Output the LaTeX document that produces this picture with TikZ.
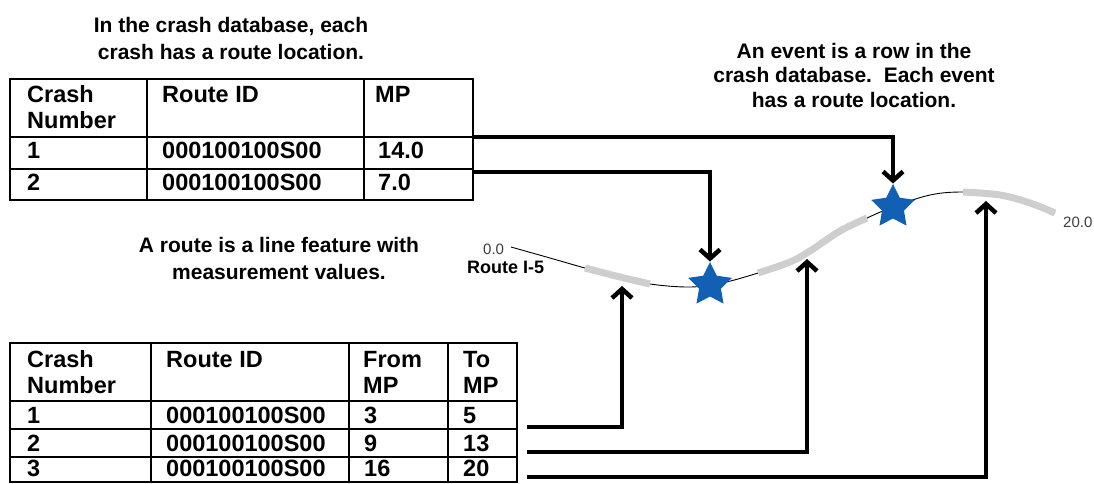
\documentclass[tikz,border=0pt]{standalone}
\usepackage{fontspec}
\setmainfont{Liberation Sans}
\usetikzlibrary{arrows.meta,shapes.geometric}
\definecolor{starblue}{RGB}{18,96,180}
\definecolor{routegray}{RGB}{206,206,206}
\definecolor{labgray}{RGB}{60,60,60}
\begin{document}
\begin{tikzpicture}[x=1pt,y=-1pt,
  tbl/.style={line width=2pt},
  cell/.style={anchor=base west, inner sep=0pt, font=\fontsize{23.5}{26}\selectfont\bfseries},
  captext/.style={anchor=north, inner sep=0pt, align=center, font=\fontsize{21}{27}\selectfont\bfseries},
  conn/.style={line width=4.5pt},
  arr/.style={conn, -{Straight Barb[length=9pt,width=20pt]}},
  routeline/.style={line width=0.9pt, black},
  seg/.style={line width=7pt, routegray},
  evstar/.style={star, star points=5, star point ratio=2.0, minimum size=46pt, inner sep=0pt, fill=starblue},
  smalllab/.style={anchor=base west, inner sep=0pt, font=\fontsize{15}{16}\selectfont, text=labgray},
]
\useasboundingbox (0,0) rectangle (1094,483);

% captions
\node[captext] (capA) at (231,17) {In the crash database, each\\crash has a route location.};
\node[captext] (capB) at (279,237) {A route is a line feature with\\measurement values.};
\node[captext, font=\fontsize{21}{24.5}\selectfont\bfseries] (capC) at (854,43) {An event is a row in the\\crash database.\ \ Each event\\has a route location.};

% top table
\draw[tbl] (10,79) rectangle (473,200);
\draw[tbl] (10,137) -- (473,137) (10,169) -- (473,169);
\draw[tbl] (147,79) -- (147,200) (364,79) -- (364,200);
\node[cell] (t00) at (27,102) {Crash};
\node[cell] (t00b) at (27,128) {Number};
\node[cell] (t01) at (162,102) {Route ID};
\node[cell] (t02) at (375,102) {MP};
\node[cell] (t10) at (27,158) {1};
\node[cell] (t11) at (162,158) {000100100S00};
\node[cell] (t12) at (378,158) {14.0};
\node[cell] (t20) at (27,190) {2};
\node[cell] (t21) at (162,190) {000100100S00};
\node[cell] (t22) at (378,190) {7.0};

% bottom table
\draw[tbl] (10,343) rectangle (517,481.5);
\draw[tbl] (10,401) -- (517,401) (10,429) -- (517,429) (10,457) -- (517,457);
\draw[tbl] (151,343) -- (151,481.5) (349,343) -- (349,481.5) (448,343) -- (448,481.5);
\node[cell] (u00) at (27,367) {Crash};
\node[cell] (u00b) at (27,393) {Number};
\node[cell] (u01) at (166,367) {Route ID};
\node[cell] (u02) at (363,367) {From};
\node[cell] (u02b) at (363,393) {MP};
\node[cell] (u03) at (463,367) {To};
\node[cell] (u03b) at (463,393) {MP};
\node[cell] (u10) at (27,423) {1};
\node[cell] (u11) at (166,423) {000100100S00};
\node[cell] (u12) at (364,423) {3};
\node[cell] (u13) at (463,423) {5};
\node[cell] (u20) at (27,451) {2};
\node[cell] (u21) at (166,451) {000100100S00};
\node[cell] (u22) at (364,451) {9};
\node[cell] (u23) at (463,451) {13};
\node[cell] (u30) at (27,476) {3};
\node[cell] (u31) at (166,476) {000100100S00};
\node[cell] (u32) at (364,476) {16};
\node[cell] (u33) at (463,476) {20};

% route
\draw[routeline] plot[smooth, tension=0.6] coordinates {(511,247) (550,258) (585,268) (620,277) (650,284) (690,287) (722,283) (758,273) (790,262) (810,251) (840,231) (867,218) (893,207) (930,195) (963,192) (1000,195) (1055,213)};
\draw[seg] plot[smooth, tension=0.6] coordinates {(585,268) (620,277) (650,284)};
\draw[seg] plot[smooth, tension=0.6] coordinates {(758,273) (790,262) (810,251) (840,231) (867,218)};
\draw[seg] plot[smooth, tension=0.6] coordinates {(963,192) (1000,195) (1030,203) (1055,213)};
\node[smalllab] (m0) at (483,254) {0.0};
\node[anchor=base west, inner sep=0pt, font=\fontsize{18}{20}\selectfont\bfseries] (rname) at (467,273) {Route I-5};
\node[smalllab] (m20) at (1063,227) {20.0};

% events
\node[evstar] (s1) at (893,207) {};
\node[evstar] (s2) at (710,285) {};

% connectors
\coordinate (r1) at (473,137);
\coordinate (r2) at (473,172);
\draw[arr] (r1) -| (s1.north);
\draw[arr] (r2) -| (s2.north);

\coordinate (b1) at (527,427);
\coordinate (b2) at (527,452);
\coordinate (b3) at (527,477);
\coordinate (g1) at (622,286);
\coordinate (g2) at (807,259);
\coordinate (g3) at (986,201);
\draw[arr] (b1) -| (g1);
\draw[arr] (b2) -| (g2);
\draw[arr] (b3) -| (g3);
\end{tikzpicture}
\end{document}
